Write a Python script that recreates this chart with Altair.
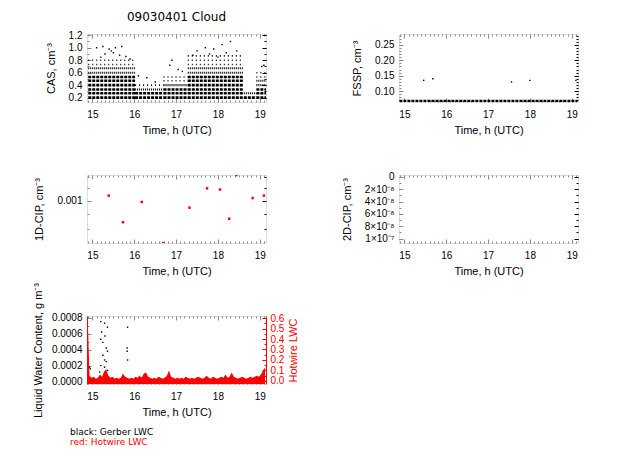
import altair as alt
import pandas as pd

FONT = "DejaVu Sans"
RED = "#ff0000"

# ---------------- data ----------------
title_text = "09030401 Cloud"
x_hours = [15, 16, 17, 18, 19]
x_minor = [round(14.9 + 0.1 * i, 1) for i in range(43)]
XDOM = [14.87, 19.15]

# CAS: quantised concentration rows (start h, end h, level, density)
cas_start = [14.9, 14.9, 14.9, 14.9, 14.9, 14.9, 14.9, 14.9, 14.9, 14.9,
             16.02, 16.02, 16.02, 16.02,
             16.7, 16.7, 16.7, 16.7, 16.7, 16.7,
             17.28, 17.28, 17.28, 17.28, 17.28, 17.28, 17.28, 17.28, 17.28, 17.28, 17.28,
             18.62, 18.62,
             18.92, 18.92, 18.92, 18.92, 18.92, 18.92, 18.92]
cas_end = [16.02] * 10 + [16.7] * 4 + [17.28] * 6 + [18.62] * 11 + [18.92] * 2 + [19.15] * 7
cas_level = [0.2, 0.27, 0.33, 0.4, 0.47, 0.53, 0.6, 0.67, 0.73, 0.8,
             0.2, 0.27, 0.33, 0.4,
             0.2, 0.27, 0.33, 0.4, 0.47, 0.53,
             0.2, 0.27, 0.33, 0.4, 0.47, 0.53, 0.6, 0.67, 0.73, 0.8, 0.87,
             0.2, 0.27,
             0.2, 0.27, 0.33, 0.4, 0.47, 0.53, 0.6]
cas_density = ["d", "d", "d", "d", "d", "d", "m", "m", "s", "s",
               "d", "d", "m", "s",
               "d", "d", "d", "m", "s", "s",
               "d", "d", "d", "d", "d", "d", "m", "m", "s", "s", "s",
               "d", "m",
               "d", "d", "d", "m", "m", "s", "s"]
cas_pt_t = [15.1, 15.25, 15.4, 15.55, 15.7, 15.3, 15.5, 15.65, 15.2, 15.8, 15.45, 15.9,
            16.3, 16.5, 16.1,
            16.85, 17.05, 16.9, 17.15,
            17.5, 17.7, 17.9, 18.1, 18.3, 18.2, 17.8, 18.45, 17.4, 18.0,
            19.05, 19.1]
cas_pt_v = [1.0, 1.02, 0.98, 1.0, 1.02, 0.9, 0.92, 0.88, 0.85, 0.86, 0.95, 0.82,
            0.52, 0.45, 0.55,
            0.72, 0.65, 0.8, 0.62,
            0.95, 1.0, 0.98, 1.05, 1.1, 0.92, 0.9, 0.95, 0.88, 0.85,
            0.7, 0.72]

# FSSP
fssp_start = [14.88]
fssp_end = [19.14]
fssp_level = [0.068]
fssp_pt_t = [15.46, 15.68, 17.56, 18.0, 19.1]
fssp_pt_v = [0.135, 0.14, 0.13, 0.135, 0.135]

# 1D-CIP
cip_t = [15.39, 15.73, 16.18, 17.32, 17.74, 18.05, 18.27, 18.83, 19.1, 18.44, 16.69]
cip_v = [0.00104, 0.000846, 0.00099, 0.000947, 0.0011, 0.00109, 0.000869, 0.00102,
         0.00104, 0.00122, 0.00072]

# LWC
gerber_t = [15.2, 15.29, 15.36, 15.2, 15.25, 15.33, 15.36, 15.25, 15.29, 15.33, 15.2,
            15.29, 15.36, 15.17, 15.84, 15.83, 15.83, 15.84, 14.93, 14.95, 15.22, 15.3]
gerber_v = [0.00075, 0.00073, 0.00068, 0.00053, 0.00049, 0.00042, 0.00038, 0.00033,
            0.00027, 0.00025, 0.0002, 0.00018, 0.00014, 0.00012, 0.00068, 0.00042,
            0.00038, 0.00027, 0.00018, 0.00016, 0.00062, 0.00057]
hotwire_t0 = 14.88
hotwire_dt = 0.05
hotwire_v = [0.7, 0.05, 0.03, 0.04, 0.02, 0.03, 0.06, 0.04, 0.09, 0.11,
             0.05, 0.03, 0.04, 0.02, 0.03, 0.02, 0.03, 0.07, 0.04, 0.03,
             0.02, 0.03, 0.02, 0.04, 0.03, 0.05, 0.03, 0.07, 0.08, 0.04,
             0.03, 0.02, 0.03, 0.02, 0.04, 0.03, 0.02, 0.03, 0.05, 0.1,
             0.04, 0.03, 0.02, 0.03, 0.02, 0.03, 0.02, 0.04, 0.03, 0.02,
             0.03, 0.02, 0.03, 0.04, 0.03, 0.02, 0.03, 0.05, 0.03, 0.02,
             0.04, 0.03, 0.02, 0.03, 0.04, 0.03, 0.06, 0.03, 0.04, 0.08,
             0.04, 0.03, 0.02, 0.03, 0.04, 0.03, 0.02, 0.03, 0.04, 0.03,
             0.04, 0.05, 0.04, 0.06, 0.1, 0.13]

# ---------------- helpers ----------------
W, H = 179, 68


def xs():
    return alt.Scale(domain=XDOM, nice=False, zero=False)


def frame_layers(ys_l, ys_r, mid_l, mid_r, l_major, l_minor, r_major, r_minor,
                 l_fmt=None, l_expr=None, ytitle="", r_labels=False, r_fmt=None,
                 r_title=None, r_color="black", red_edges=False, ytitle_pad=12,
                 xtitle="Time, h (UTC)"):
    df = pd.DataFrame({"x": [17.0], "yl": [mid_l], "yr": [mid_r]})
    base = alt.Chart(df).mark_point(opacity=0)
    lkw = dict(format=l_fmt) if l_fmt else {}
    if l_expr:
        lkw["labelExpr"] = l_expr
    L1 = base.encode(
        x=alt.X("x:Q", scale=xs(), axis=alt.Axis(
            orient="bottom", values=x_hours, offset=-4, tickSize=4, domain=False,
            grid=False, labelPadding=7, format="d", title=xtitle, titlePadding=5,
            titleFontWeight="normal")),
        y=alt.Y("yl:Q", scale=ys_l, axis=alt.Axis(
            orient="left", values=l_major, offset=-4, tickSize=4, domain=False,
            grid=False, labelPadding=5, title=ytitle, titlePadding=ytitle_pad,
            titleFontWeight="normal", **lkw)),
    )
    L2 = base.encode(
        x=alt.X("x:Q", scale=xs(), axis=alt.Axis(
            orient="bottom", values=x_minor, offset=-2, tickSize=2, domain=False,
            grid=False, labels=False, title=None)),
        y=alt.Y("yl:Q", scale=ys_l, axis=alt.Axis(
            orient="left", values=l_minor, offset=-2, tickSize=2, domain=False,
            grid=False, labels=False, title=None)),
    )
    rkw = {}
    if r_labels:
        rkw = dict(labels=True, format=r_fmt, labelColor=r_color, labelPadding=4,
                   title=r_title, titleColor=r_color, titlePadding=4,
                   titleFontWeight="normal", titleAngle=270, titleBaseline="top")
    else:
        rkw = dict(labels=False, title=None)
    L3 = base.encode(
        x=alt.X("x:Q", scale=xs(), axis=alt.Axis(
            orient="top", values=x_hours, offset=-4, tickSize=4, domain=False,
            grid=False, labels=False, title=None)),
        y=alt.Y("yr:Q", scale=ys_r, axis=alt.Axis(
            orient="right", values=r_major, offset=-4, tickSize=4, domain=False,
            grid=False, tickColor=r_color, **rkw)),
    )
    L4 = base.encode(
        x=alt.X("x:Q", scale=xs(), axis=alt.Axis(
            orient="top", values=x_minor, offset=-2, tickSize=2, domain=False,
            grid=False, labels=False, title=None)),
        y=alt.Y("yr:Q", scale=ys_r, axis=alt.Axis(
            orient="right", values=r_minor, offset=-2, tickSize=2, domain=False,
            grid=False, labels=False, title=None, tickColor=r_color)),
    )
    layers = [L1, L2, L3, L4]
    if red_edges:
        layers.append(base.encode(
            x=alt.X("x:Q", scale=xs(), axis=None),
            y=alt.Y("yl:Q", scale=ys_l, axis=alt.Axis(
                orient="left", domain=True, domainColor=RED, ticks=False,
                labels=False, title=None, grid=False))))
        layers.append(base.encode(
            x=alt.X("x:Q", scale=xs(), axis=None),
            y=alt.Y("yr:Q", scale=ys_r, axis=alt.Axis(
                orient="right", domain=True, domainColor=RED, ticks=False,
                labels=False, title=None, grid=False))))
    return layers


def band_layer(df, ys, color="black"):
    return alt.Chart(df).mark_rule(color=color, clip=True).encode(
        x=alt.X("start:Q", scale=xs(), axis=None),
        x2="end:Q",
        y=alt.Y("level:Q", scale=ys, axis=None),
        strokeDash=alt.StrokeDash("density:N", legend=None, scale=alt.Scale(
            domain=["d", "m", "s"], range=[[3, 1], [1, 1], [1, 3]])),
        strokeWidth=alt.StrokeWidth("density:N", legend=None, scale=alt.Scale(
            domain=["d", "m", "s"], range=[2.6, 1.6, 1.2])),
    )


def pts_layer(df, ys, color="black", size=3, shape="square"):
    return alt.Chart(df).mark_point(color=color, filled=True, size=size, shape=shape,
                                    clip=True, opacity=1).encode(
        x=alt.X("t:Q", scale=xs(), axis=None),
        y=alt.Y("v:Q", scale=ys, axis=None),
    )


def panel(data_layers, frame, title=None):
    props = dict(width=W, height=H)
    if title is not None:
        props["title"] = title
    return alt.layer(*data_layers, *frame).resolve_scale(
        x="independent", y="independent").properties(**props)


# ---------------- panel 1: CAS ----------------
ys1 = alt.Scale(domain=[0.13, 1.22], nice=False, zero=False)
cas_bands = pd.DataFrame({"start": cas_start, "end": cas_end, "level": cas_level,
                          "density": cas_density})
cas_pts = pd.DataFrame({"t": cas_pt_t, "v": cas_pt_v})
p1 = panel(
    [band_layer(cas_bands, ys1), pts_layer(cas_pts, ys1, size=2)],
    frame_layers(ys1, ys1, 0.6, 0.6, [0.2, 0.4, 0.6, 0.8, 1.0, 1.2],
                 [round(0.2 + 0.1 * i, 1) for i in range(11)],
                 [0.2, 0.4, 0.6, 0.8, 1.0, 1.2], [round(0.2 + 0.1 * i, 1) for i in range(11)],
                 l_fmt=".1f", ytitle="CAS, cm⁻³"),
    title=alt.TitleParams(title_text, fontSize=12, font=FONT, fontWeight="normal",
                          anchor="middle", offset=6),
)

# ---------------- panel 2: FSSP ----------------
ys2 = alt.Scale(domain=[0.065, 0.285], nice=False, zero=False)
fssp_bands = pd.DataFrame({"start": fssp_start, "end": fssp_end, "level": fssp_level,
                           "density": ["d"]})
fssp_pts = pd.DataFrame({"t": fssp_pt_t, "v": fssp_pt_v})
f_minor = [round(0.07 + 0.01 * i, 2) for i in range(22)]
p2 = panel(
    [band_layer(fssp_bands, ys2), pts_layer(fssp_pts, ys2, size=2)],
    frame_layers(ys2, ys2, 0.15, 0.15, [0.10, 0.15, 0.20, 0.25], f_minor,
                 [0.10, 0.15, 0.20, 0.25], f_minor, l_fmt=".2f", ytitle="FSSP, cm⁻³"),
)

# ---------------- panel 3: 1D-CIP ----------------
ys3 = alt.Scale(type="log", domain=[0.00072, 0.00122], nice=False)
cip_pts = pd.DataFrame({"t": cip_t, "v": cip_v})
c_minor = [0.0008, 0.0009, 0.0011, 0.0012]
p3 = panel(
    [pts_layer(cip_pts, ys3, color=RED, size=6)],
    frame_layers(ys3, ys3, 0.001, 0.001, [0.001], c_minor, [0.001], c_minor,
                 l_fmt=".3f", ytitle="1D-CIP, cm⁻³"),
)

# ---------------- panel 4: 2D-CIP (no data) ----------------
ys4 = alt.Scale(domain=[-3e-9, 1.07e-7], reverse=True, nice=False, zero=False)
cip2_pts = pd.DataFrame({"t": [], "v": []})
d_major = [0, 2e-8, 4e-8, 6e-8, 8e-8, 1e-7]
d_minor = [i * 1e-8 for i in range(11)]
p4 = panel(
    [pts_layer(cip2_pts, ys4)],
    frame_layers(ys4, ys4, 5e-8, 5e-8, d_major, d_minor, d_major, d_minor,
                 l_expr="datum.value == 0 ? '0' : datum.value > 9e-8 ? '1×10⁻⁷' : "
                        "format(datum.value * 1e8, 'd') + '×10⁻⁸'",
                 ytitle="2D-CIP, cm⁻³"),
)

# ---------------- panel 5: LWC ----------------
HW_DOM = [-0.03, 0.62]
ys5l = alt.Scale(domain=[-0.00003, 0.00082], nice=False, zero=False)
ys5r = alt.Scale(domain=HW_DOM, nice=False, zero=False)
hot = pd.DataFrame({"t": [hotwire_t0 + hotwire_dt * i for i in range(len(hotwire_v))],
                    "v": hotwire_v})
ger = pd.DataFrame({"t": gerber_t, "v": gerber_v})
hot_layer = alt.Chart(hot).mark_area(color=RED, clip=True, opacity=1).encode(
    x=alt.X("t:Q", scale=xs(), axis=None),
    y=alt.Y("v:Q", scale=ys5r, axis=None),
    y2=alt.datum(HW_DOM[0]),
)
p5 = panel(
    [pts_layer(ger, ys5l, size=2), hot_layer],
    frame_layers(ys5l, ys5r, 0.0004, 0.3, [0, 0.0002, 0.0004, 0.0006, 0.0008],
                 [round(0.0001 * i, 4) for i in range(9)],
                 [0, 0.1, 0.2, 0.3, 0.4, 0.5, 0.6], [round(0.05 * i, 2) for i in range(13)],
                 l_fmt=".4f", ytitle="Liquid Water Content, g m⁻³", r_labels=True,
                 r_fmt=".1f", r_title="Hotwire LWC", r_color=RED, red_edges=True,
                 ytitle_pad=8),
    title=alt.TitleParams("black: Gerber LWC", subtitle="red: Hotwire LWC", orient="bottom",
                          anchor="start", frame="group", fontSize=9, subtitleFontSize=9,
                          font=FONT, subtitleFont=FONT, fontWeight="normal", color="black",
                          subtitleColor=RED, dx=-17, offset=10, subtitlePadding=1),
)

chart = alt.concat(p1, p2, p3, p4, p5, columns=2, spacing={"row": 73, "column": 133},
                   bounds="flush").properties(
    autosize=alt.AutoSizeParams(type="none"),
    padding={"left": 87, "top": 34, "right": 546, "bottom": 440},
).configure_view(stroke="black", strokeWidth=1).configure_axis(
    labelFont=FONT, titleFont=FONT, labelFontSize=9, titleFontSize=9,
    titleFontWeight="normal", labelColor="black", tickColor="black", titleColor="black",
    tickWidth=1,
).configure(background="white")

chart.save("out.html", embed_options={"renderer": "svg", "actions": False})
